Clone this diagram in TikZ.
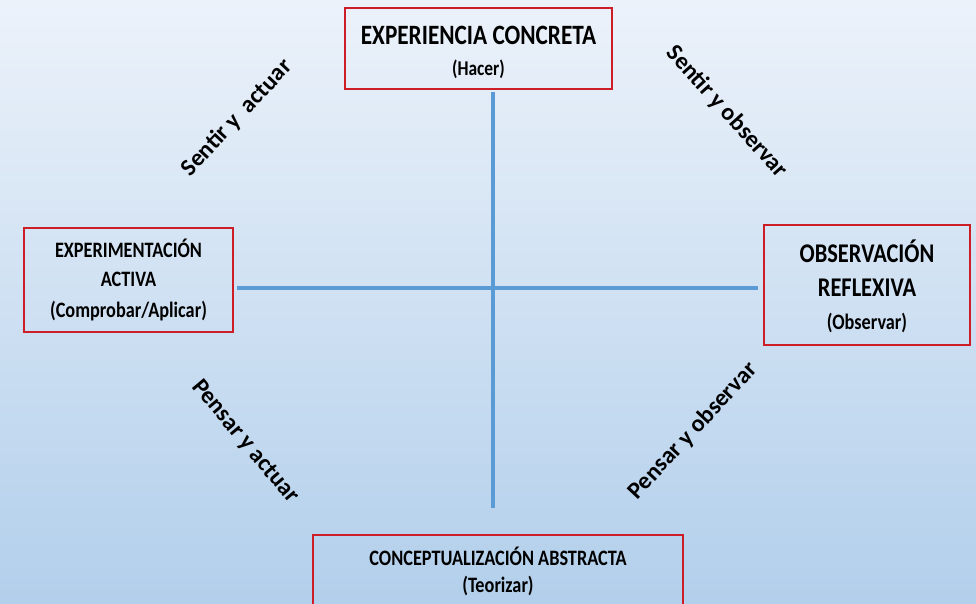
\documentclass[tikz,border=0pt]{standalone}
\usepackage{fontspec}
\setmainfont{Carlito}[FakeStretch=0.83]
\newfontfamily\diagfont{Carlito}
\begin{document}
\begin{tikzpicture}[x=1pt,y=-1pt,
  box/.style={draw=boxred,line width=1.3pt,inner sep=0pt,align=center,font=\bfseries},
  axis/.style={draw=axisblue,line width=4pt},
  diag/.style={font=\diagfont\bfseries\fontsize{24}{26}\selectfont,inner sep=0pt}]
\definecolor{boxred}{RGB}{205,30,40}
\definecolor{axisblue}{RGB}{91,155,213}
\definecolor{bgtop}{RGB}{236,242,250}
\definecolor{bgbot}{RGB}{178,207,235}
\useasboundingbox (0,0) rectangle (976,604);
\shade[top color=bgtop,bottom color=bgbot] (0,0) rectangle (976,604);
% boxes
\node[box,minimum width=267pt,minimum height=81pt] (ec) at (478.5,48.5) {};
\node[box,minimum width=209pt,minimum height=104pt] (ea) at (128.5,280) {};
\node[box,minimum width=206pt,minimum height=120pt] (or) at (867,285) {};
\node[box,minimum width=370pt,minimum height=76pt] (ca) at (498,573) {};
% texts
\node[font=\bfseries\fontsize{28}{30}\selectfont,inner sep=0pt] (ect1) at (478.5,35) {EXPERIENCIA CONCRETA};
\node[font=\bfseries\fontsize{21}{23}\selectfont,inner sep=0pt] (ect2) at (478.5,69) {(Hacer)};
\node[font=\bfseries\fontsize{22}{24}\selectfont,inner sep=0pt] (eat1) at (128.5,248) {EXPERIMENTACIÓN};
\node[font=\bfseries\fontsize{22}{24}\selectfont,inner sep=0pt] (eat2) at (128.5,279) {ACTIVA};
\node[font=\bfseries\fontsize{22}{24}\selectfont,inner sep=0pt] (eat3) at (128.5,311) {(Comprobar/Aplicar)};
\node[font=\bfseries\fontsize{27}{29}\selectfont,inner sep=0pt] (ort1) at (867,251) {OBSERVACIÓN};
\node[font=\bfseries\fontsize{27}{29}\selectfont,inner sep=0pt] (ort2) at (867,288) {REFLEXIVA};
\node[font=\bfseries\fontsize{22}{24}\selectfont,inner sep=0pt] (ort3) at (867,323) {(Observar)};
\node[font=\bfseries\fontsize{22}{24}\selectfont,inner sep=0pt] (cat1) at (498,556) {CONCEPTUALIZACIÓN ABSTRACTA};
\node[font=\bfseries\fontsize{22}{24}\selectfont,inner sep=0pt] (cat2) at (498,586) {(Teorizar)};
% axes
\coordinate (vt) at (493,92);
\coordinate (vb) at (493,508);
\coordinate (hl) at (237,288);
\coordinate (hr) at (758,288);
\draw[axis] (vt) -- (vb);
\draw[axis] (hl) -- (hr);
% diagonal labels
\node[diag,rotate=47] (sa) at (237,118) {Sentir y \ actuar};
\node[diag,rotate=-48] (so) at (727,112) {Sentir y observar};
\node[diag,rotate=-50] (pa) at (245,442) {Pensar y actuar};
\node[diag,rotate=47] (po) at (693,431) {Pensar y observar};
\end{tikzpicture}
\end{document}
